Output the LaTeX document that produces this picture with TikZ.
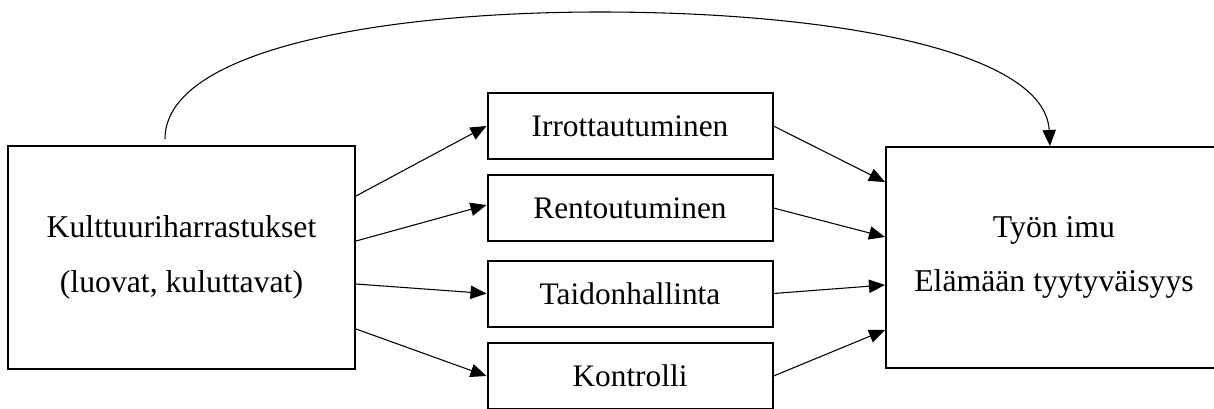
\documentclass[tikz,border=0pt]{standalone}
\usepackage{fontspec}
\setmainfont{Liberation Serif}
\usetikzlibrary{arrows.meta,calc}
\begin{document}
\begin{tikzpicture}[x=0.75pt,y=-0.75pt,
  bigbox/.style={draw,line width=1.5pt,align=center,inner sep=0pt,font=\fontsize{23.8}{41}\selectfont},
  midbox/.style={draw,line width=1.5pt,minimum width=285*0.75pt,minimum height=66*0.75pt,inner sep=0pt,font=\fontsize{23.5}{27}\selectfont},
  conn/.style={line width=0.8pt,-{Triangle[length=12pt,width=10pt]}}]
\useasboundingbox (0,0) rectangle (1214,408);
\clip (0,0) rectangle (1214,408);
\node[bigbox,minimum width=347*0.75pt,minimum height=223*0.75pt] (L) at (181.5,257.5) {Kulttuuriharrastukset\\(luovat, kuluttavat)};
\node[bigbox,minimum width=336*0.75pt,minimum height=221*0.75pt] (R) at (1054,257.5) {Työn imu\\Elämään tyytyväisyys};
\node[midbox] (M1) at (630,126) {Irrottautuminen};
\node[midbox] (M2) at (630,208) {Rentoutuminen};
\node[midbox] (M3) at (630,293.5) {Taidonhallinta};
\node[midbox] (M4) at (630,376) {Kontrolli};
\draw[conn] ($(L.east)+(0,-61.5)$) -- (M1.west);
\draw[conn] ($(L.east)+(0,-16.5)$) -- ($(M2.west)+(0,-3)$);
\draw[conn] ($(L.east)+(0,26.5)$) -- (M3.west);
\draw[conn] ($(L.east)+(0,71.5)$) -- (M4.west);
\draw[conn] (M1.east) -- ($(R.west)+(0,-75.5)$);
\draw[conn] (M2.east) -- ($(R.west)+(0,-20.5)$);
\draw[conn] (M3.east) -- ($(R.west)+(0,27.5)$);
\draw[conn] (M4.east) -- ($(R.west)+(0,72.5)$);
\draw[conn] ($(L.north)+(-16.5,-6)$) .. controls (165,50) and (380,12) .. (600,12)
  .. controls (830,12) and (1045,50) .. ($(R.north)+(-4,0)$);
\end{tikzpicture}
\end{document}
